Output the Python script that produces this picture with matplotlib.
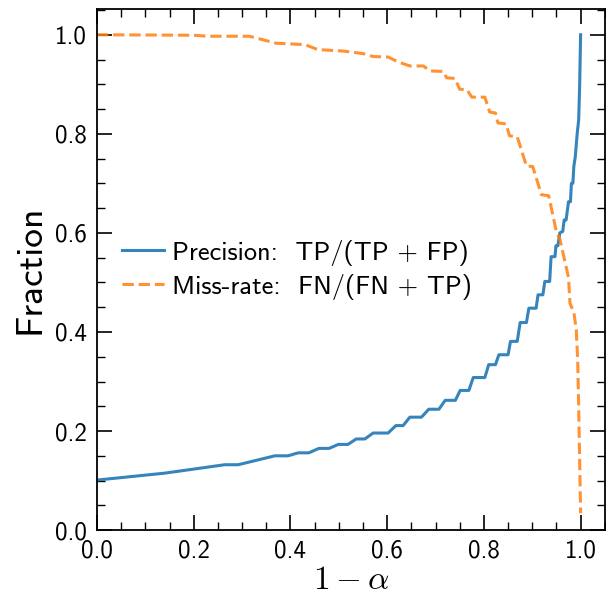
import numpy as np
import matplotlib
matplotlib.use("Agg")
import matplotlib.pyplot as plt
from matplotlib.ticker import MultipleLocator

# values
prec_x = [0.0, 0.14, 0.206, 0.264, 0.292, 0.368, 0.395, 0.416, 0.438, 0.459,
          0.480, 0.499, 0.519, 0.536, 0.554, 0.571, 0.602, 0.618, 0.633, 0.647,
          0.671, 0.686, 0.707, 0.720, 0.741, 0.751, 0.769, 0.778, 0.802, 0.810,
          0.824, 0.831, 0.850, 0.855, 0.869, 0.875, 0.888, 0.893, 0.908, 0.912,
          0.922, 0.926, 0.936, 0.939, 0.947, 0.949, 0.953, 0.957, 0.963, 0.966,
          0.970, 0.975, 0.979, 0.981, 0.984, 0.986, 0.989, 0.993, 0.996, 0.998, 1.0]
prec_y = [0.101, 0.115, 0.124, 0.132, 0.132, 0.150, 0.150, 0.156, 0.156, 0.165,
          0.165, 0.173, 0.173, 0.184, 0.184, 0.196, 0.196, 0.211, 0.211, 0.228,
          0.228, 0.244, 0.244, 0.262, 0.262, 0.282, 0.282, 0.308, 0.308, 0.334,
          0.334, 0.354, 0.354, 0.381, 0.381, 0.419, 0.419, 0.448, 0.448, 0.475,
          0.475, 0.502, 0.502, 0.552, 0.552, 0.574, 0.574, 0.600, 0.603, 0.626,
          0.626, 0.663, 0.663, 0.700, 0.700, 0.734, 0.754, 0.801, 0.828, 0.896, 1.0]

miss_x = [0.0, 0.20, 0.23, 0.315, 0.37, 0.43, 0.457, 0.51, 0.55, 0.571,
          0.602, 0.623, 0.647, 0.675, 0.688, 0.716, 0.723, 0.740, 0.750, 0.765,
          0.775, 0.802, 0.812, 0.824, 0.829, 0.846, 0.853, 0.869, 0.888, 0.901,
          0.919, 0.934, 0.950, 0.957, 0.975, 0.978, 0.986, 0.991, 0.994, 0.996,
          0.998, 1.0]
miss_y = [1.0, 0.999, 0.997, 0.997, 0.983, 0.980, 0.970, 0.967, 0.962, 0.956,
          0.955, 0.945, 0.937, 0.937, 0.927, 0.926, 0.913, 0.912, 0.890, 0.889,
          0.874, 0.874, 0.844, 0.842, 0.822, 0.820, 0.796, 0.794, 0.735, 0.734,
          0.677, 0.675, 0.602, 0.588, 0.51, 0.458, 0.440, 0.404, 0.343, 0.249,
          0.141, 0.034]

plt.rcParams["font.family"] = ["cmss10", "DejaVu Sans"]
plt.rcParams["mathtext.fontset"] = "cm"
plt.rcParams["axes.unicode_minus"] = False

fig = plt.figure(figsize=(6.06, 5.99), dpi=100)
ax = fig.add_axes([0.160, 0.115, 0.838, 0.870])

ax.plot(prec_x, prec_y, color="#1f77b4", lw=2.2, alpha=0.9,
        label="Precision:  TP/(TP + FP)")
ax.plot(miss_x, miss_y, color="#ff7f0e", lw=2.2, ls="--", alpha=0.85,
        label="Miss-rate:  FN/(FN + TP)")

ax.set_xlim(0, 1.05)
ax.set_ylim(0, 1.052)
ax.xaxis.set_major_locator(MultipleLocator(0.2))
ax.xaxis.set_minor_locator(MultipleLocator(0.05))
ax.yaxis.set_major_locator(MultipleLocator(0.2))
ax.yaxis.set_minor_locator(MultipleLocator(0.05))
ax.tick_params(which="both", direction="in", top=True, right=True, labelsize=18)
ax.tick_params(which="major", length=11, width=1.2, pad=7)
ax.tick_params(which="minor", length=5.5, width=1.0)
for s in ax.spines.values():
    s.set_linewidth(1.3)

ax.set_xlabel(r"$1-\alpha$", fontsize=24, labelpad=2)
ax.set_ylabel("Fraction", fontsize=27, labelpad=6)

ax.legend(loc="center left", bbox_to_anchor=(0.012, 0.50), frameon=False,
          fontsize=19, handlelength=1.6, handletextpad=0.3, labelspacing=0.3,
          borderaxespad=0.3)

fig.savefig("out.png", dpi=100)
